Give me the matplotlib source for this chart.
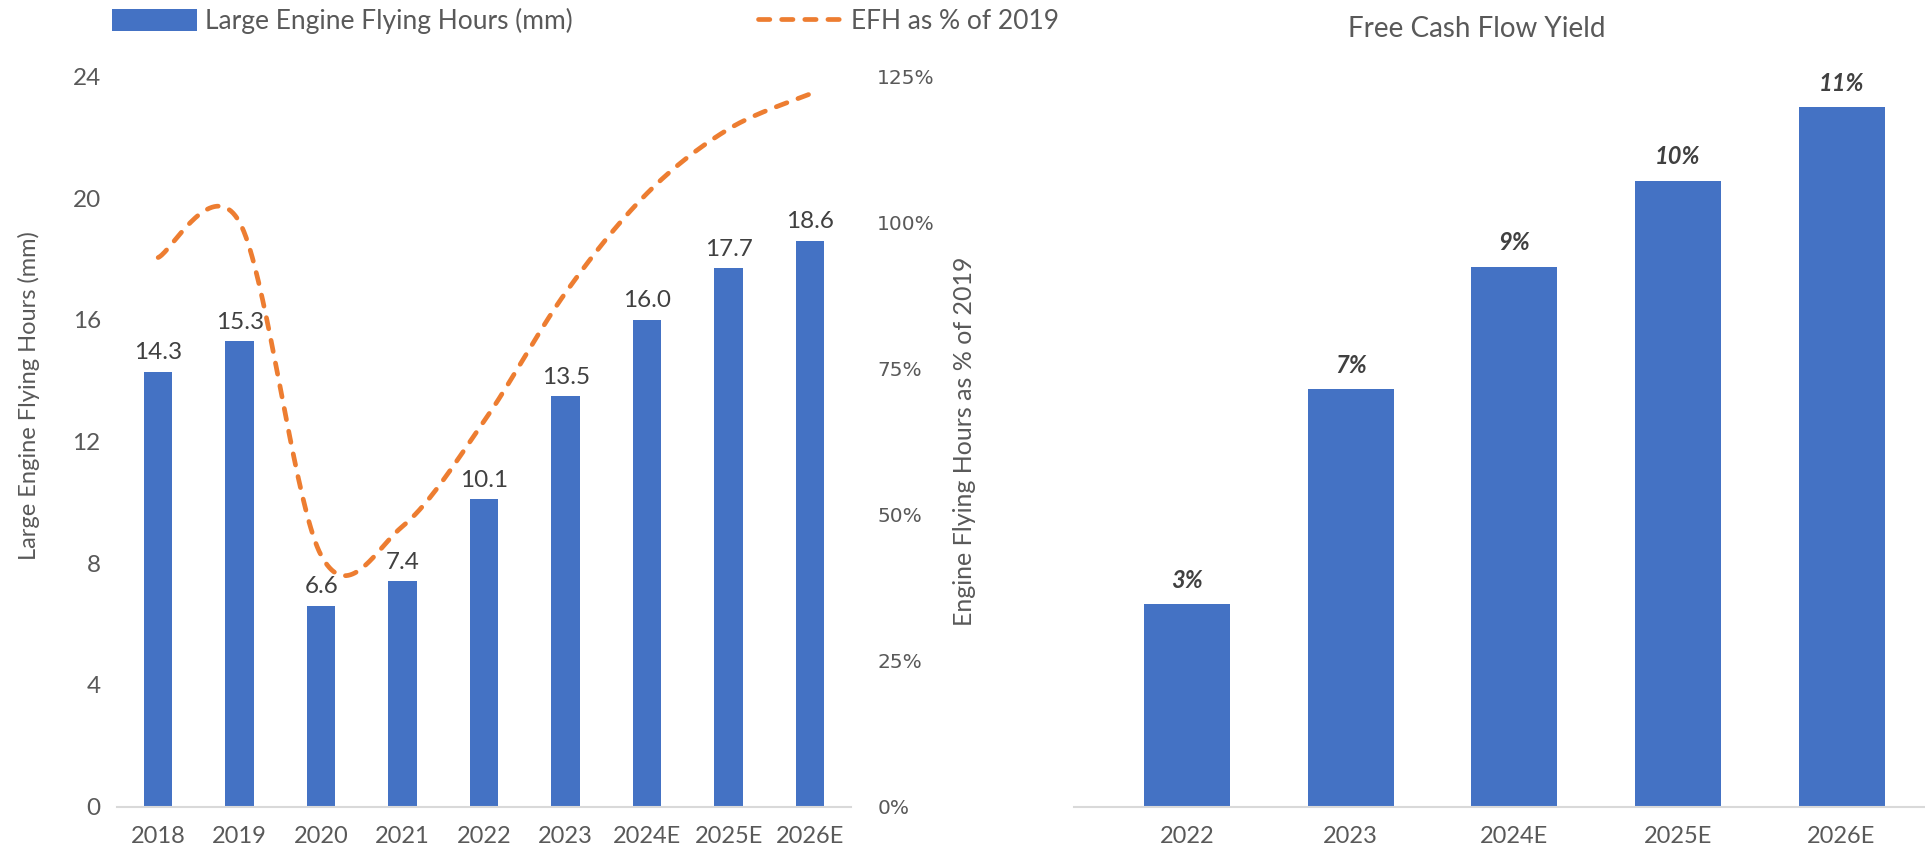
import numpy as np
import matplotlib.pyplot as plt
from matplotlib.patches import Patch
from matplotlib.lines import Line2D

years = ['2018', '2019', '2020', '2021', '2022', '2023', '2024E', '2025E', '2026E']
efh_mm = [14.3, 15.3, 6.6, 7.4, 10.1, 13.5, 16.0, 17.7, 18.6]
efh_pct_2019 = [94, 100, 43, 48, 66, 88, 105, 116, 122]

fcf_years = ['2022', '2023', '2024E', '2025E', '2026E']
fcf_yield = [3.3, 6.8, 8.8, 10.2, 11.4]

BLUE = '#4472C4'
ORANGE = '#ED7D31'
GREY = '#595959'
DARK = '#404040'
AXIS = '#D9D9D9'
DASH = (0, (2.4, 2.5))

plt.rcParams['font.family'] = ['Lato', 'DejaVu Sans']


def smooth(y, n=40):
    # cubic bezier through every point, excel style smoothing
    y = np.asarray(y, float)
    x = np.arange(len(y), dtype=float)
    P = np.column_stack([x, y])
    P = np.vstack([P[0], P, P[-1]])
    t = np.linspace(0, 1, n)[:, None]
    out = []
    for i in range(1, len(P) - 2):
        p0, p3 = P[i], P[i + 1]
        c1 = p0 + (P[i + 1] - P[i - 1]) / 6
        c2 = p3 - (P[i + 2] - P[i]) / 6
        seg = (1 - t) ** 3 * p0 + 3 * (1 - t) ** 2 * t * c1 + 3 * (1 - t) * t ** 2 * c2 + t ** 3 * p3
        out.append(seg)
    out = np.vstack(out)
    return out[:, 0], out[:, 1]


fig = plt.figure(figsize=(19.25, 8.57), dpi=100)

# left panel: flying hours bars + % of 2019 line
ax = fig.add_axes([0.061, 0.0588, 0.381, 0.852])
x = np.arange(len(years))
ax.bar(x, efh_mm, width=0.35, color=BLUE, zorder=2)
for xi, v in zip(x, efh_mm):
    ax.annotate(f'{v:.1f}', (xi, v), xytext=(0, 6), textcoords='offset points',
                ha='center', va='bottom', fontsize=17.5, color=DARK)
ax.set_xlim(-0.5, 8.5)
ax.set_ylim(0, 24)
ax.set_yticks(range(0, 25, 4))
ax.set_xticks(x)
ax.set_xticklabels(years)
ax.tick_params(axis='x', length=0, pad=14, labelsize=17, labelcolor=GREY)
ax.tick_params(axis='y', length=0, pad=12, labelsize=17.5, labelcolor=GREY)
for s in ['top', 'right', 'left']:
    ax.spines[s].set_visible(False)
ax.spines['bottom'].set_color(AXIS)
ax.spines['bottom'].set_linewidth(1.5)
ax.set_ylabel('Large Engine Flying Hours (mm)', fontsize=17, color=GREY)
ax.yaxis.set_label_coords(-0.106, 0.563)

ax2 = ax.twinx()
sx, sy = smooth(efh_pct_2019)
ax2.plot(sx, sy, color=ORANGE, lw=3.4, linestyle=DASH,
         dash_capstyle='round', zorder=3)
ax2.set_ylim(0, 125)
ax2.set_yticks(range(0, 126, 25))
ax2.set_yticklabels([f'{v}%' for v in range(0, 126, 25)], family='DejaVu Sans')
ax2.tick_params(axis='y', length=0, pad=19, labelsize=14.5, labelcolor=GREY)
for s in ['top', 'right', 'left', 'bottom']:
    ax2.spines[s].set_visible(False)
ax2.set_ylabel('Engine Flying Hours as % of 2019', fontsize=18, color=GREY)
ax2.yaxis.set_label_coords(1.139, 0.5)

handles = [Patch(facecolor=BLUE, edgecolor='none'),
           Line2D([0], [0], color=ORANGE, lw=3.4, linestyle=DASH,
                  dash_capstyle='round')]
fig.legend(handles, ['Large Engine Flying Hours (mm)', 'EFH as % of 2019'],
           loc='center left', bbox_to_anchor=(0.058, 0.975), ncol=2, frameon=False,
           fontsize=19, labelcolor=GREY, handlelength=3.25, handleheight=0.9,
           handletextpad=0.3, columnspacing=7.0, borderpad=0, borderaxespad=0)

# right panel: free cash flow yield
bx = fig.add_axes([0.558, 0.0588, 0.442, 0.852])
xf = np.arange(len(fcf_years))
bx.bar(xf, fcf_yield, width=0.525, color=BLUE, zorder=2)
for xi, v in zip(xf, fcf_yield):
    bx.annotate(f'{v:.0f}%', (xi, v), xytext=(0, 9), textcoords='offset points',
                ha='center', va='bottom', fontsize=17, color=DARK,
                fontweight='bold', fontstyle='italic')
bx.set_xlim(-0.69, 4.51)
bx.set_ylim(0, 11.9)
bx.set_yticks([])
bx.set_xticks(xf)
bx.set_xticklabels(fcf_years)
bx.tick_params(axis='x', length=0, pad=14, labelsize=17, labelcolor=GREY)
for s in ['top', 'right', 'left']:
    bx.spines[s].set_visible(False)
bx.spines['bottom'].set_color(AXIS)
bx.spines['bottom'].set_linewidth(1.5)
fig.text(0.767, 0.9656, 'Free Cash Flow Yield', ha='center', va='center',
         fontsize=20, color=GREY)

fig.savefig('out.png', dpi=100)
